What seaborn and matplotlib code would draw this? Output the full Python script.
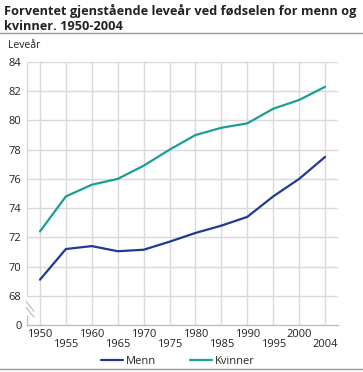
import matplotlib
matplotlib.use("Agg")
import matplotlib.pyplot as plt
from matplotlib.lines import Line2D
import seaborn as sns
import pandas as pd

years = ["1950", "1955", "1960", "1965", "1970", "1975", "1980", "1985", "1990", "1995", "2000", "2004"]
menn = [69.1, 71.2, 71.4, 71.05, 71.15, 71.7, 72.3, 72.8, 73.4, 74.8, 76.0, 77.5]
kvinner = [72.4, 74.8, 75.6, 76.0, 76.9, 78.0, 79.0, 79.5, 79.8, 80.8, 81.4, 82.3]
series_names = ["Menn", "Kvinner"]
colors = ["#1f3a93", "#1a9e9a"]
ytick_vals = [66, 68, 70, 72, 74, 76, 78, 80, 82, 84]
ytick_labels = ["0", "68", "70", "72", "74", "76", "78", "80", "82", "84"]

df = pd.concat([
    pd.DataFrame({"År": years, "Leveår": menn, "Kjønn": series_names[0]}),
    pd.DataFrame({"År": years, "Leveår": kvinner, "Kjønn": series_names[1]}),
])

sns.set_theme(style="white")
plt.rcParams["font.family"] = ["Open Sans", "DejaVu Sans"]

fig = plt.figure(figsize=(3.63, 3.72), dpi=100)
ax = fig.add_axes([27 / 363, 1 - 325 / 372, (338 - 27) / 363, (325 - 62) / 372])

grid_c = "#d9d9d9"
sns.lineplot(data=df, x="År", y="Leveår", hue="Kjønn", palette=colors,
             linewidth=1.6, ax=ax, legend=False, sort=False, zorder=3)

ax.set_xlim(-0.5, len(years) - 0.5)
ax.set_ylim(66, 84)
ax.set_yticks(ytick_vals)
ax.set_yticklabels(ytick_labels, fontsize=8, color="#222222")
ax.set_xticks(range(len(years)))
ax.set_xticklabels(years, fontsize=8, color="#222222")
ax.tick_params(axis="both", length=0)
ax.tick_params(axis="y", pad=4)
for i, t in enumerate(ax.xaxis.get_major_ticks()):
    t.set_pad(3.2 if i % 2 == 0 else 9.8)
ax.set_xlabel("")
ax.set_ylabel("")

# gridlines
for v in ytick_vals[1:]:
    ax.axhline(v, color=grid_c, lw=1.0, zorder=1)
for i in range(len(years)):
    ax.axvline(i, color=grid_c, lw=1.0, zorder=1)

for s in ["top", "right", "left"]:
    ax.spines[s].set_visible(False)
ax.spines["bottom"].set_color("#bfbfbf")
ax.spines["bottom"].set_linewidth(1.0)

# left axis line with break
yt = ax.get_yaxis_transform()
ax.plot([0, 0], [68, 84], transform=yt, color=grid_c, lw=1.0, clip_on=False, zorder=1)
ax.plot([0, 0], [66, 66.6], transform=yt, color="#bfbfbf", lw=1.0, clip_on=False, zorder=1)
for dy in (0, 0.4):
    ax.plot([-0.003, 0.022], [67.6 - dy, 66.95 - dy], transform=yt, color="#bfbfbf",
            lw=0.9, clip_on=False, zorder=1)

# title
fig.text(4 / 363, 1 - 4 / 372, "Forventet gjenstående leveår ved fødselen for menn og\nkvinner. 1950-2004",
         ha="left", va="top", fontsize=9.2, fontweight="bold", color="#222222", linespacing=1.15)
fig.add_artist(Line2D([0, 1], [1 - 33 / 372, 1 - 33 / 372], color="#999999", lw=1.0))
fig.add_artist(Line2D([0, 1], [1 - 369 / 372, 1 - 369 / 372], color="#999999", lw=1.0))
fig.text(8 / 363, 1 - 45 / 372, "Leveår", ha="left", va="center", fontsize=7.5, color="#222222")

handles = [Line2D([], [], color=c, lw=1.6) for c in colors]
fig.legend(handles, series_names, loc="center", bbox_to_anchor=(0.49, 1 - 361 / 372),
           ncol=2, frameon=False, fontsize=8, handlelength=2.0, columnspacing=3.0,
           handletextpad=0.3, borderaxespad=0)

fig.savefig("out.png", dpi=100)
